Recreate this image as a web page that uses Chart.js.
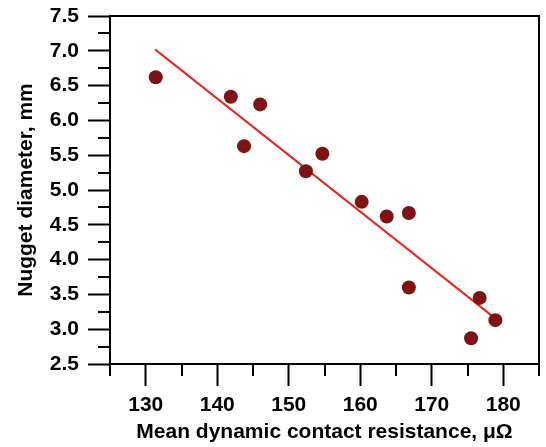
<!DOCTYPE html>
<html>
<head>
<meta charset="utf-8">
<script src="https://cdn.jsdelivr.net/npm/chart.js@4/dist/chart.umd.min.js"></script>
<style>
  html, body { margin: 0; padding: 0; background: #fff; }
  #wrap { width: 546px; height: 447px; }
</style>
</head>
<body>
<div id="wrap"><canvas id="c" width="546" height="447"></canvas></div>
<script>
// Data
const resistance = [131.4, 141.9, 143.75, 146.0, 152.4, 154.7, 160.2, 163.7, 166.8, 166.8, 175.5, 176.7, 178.9];
const diameter   = [6.62, 6.34, 5.63, 6.23, 5.27, 5.52, 4.83, 4.62, 4.67, 3.60, 2.87, 3.45, 3.13];
const fitX = [131.3, 178.7];
const fitY = [7.02, 3.17];
const xTickValues = [130, 140, 150, 160, 170, 180];
const yTickValues = [2.5, 3.0, 3.5, 4.0, 4.5, 5.0, 5.5, 6.0, 6.5, 7.0, 7.5];
const xMinorValues = [125, 135, 145, 155, 165, 175, 185];
const yMinorValues = [2.75, 3.25, 3.75, 4.25, 4.75, 5.25, 5.75, 6.25, 6.75, 7.25];
const xTitle = 'Mean dynamic contact resistance, \u03BC\u03A9';
const yTitle = 'Nugget diameter, mm';

const FONT = '"Liberation Sans", Arial, sans-serif';

const framePlugin = {
  id: 'frame',
  afterDraw(chart) {
    const {ctx, chartArea: a, scales: {x, y}} = chart;
    ctx.save();
    ctx.strokeStyle = '#000';
    ctx.lineWidth = 2;
    ctx.beginPath();
    ctx.moveTo(a.left, a.top);
    ctx.lineTo(a.right, a.top);
    ctx.lineTo(a.right, a.bottom);
    ctx.stroke();
    ctx.beginPath();
    xMinorValues.forEach(v => {
      const px = Math.round(x.getPixelForValue(v));
      ctx.moveTo(px, a.bottom);
      ctx.lineTo(px, a.bottom + 12);
    });
    yMinorValues.forEach(v => {
      const py = Math.round(y.getPixelForValue(v));
      ctx.moveTo(a.left - 12, py);
      ctx.lineTo(a.left, py);
    });
    ctx.stroke();
    ctx.restore();
  }
};

new Chart(document.getElementById('c'), {
  type: 'scatter',
  data: {
    datasets: [
      {
        type: 'line',
        data: fitX.map((v, i) => ({x: v, y: fitY[i]})),
        borderColor: '#e8291f',
        borderWidth: 2,
        pointRadius: 0,
        fill: false,
        order: 2
      },
      {
        data: resistance.map((v, i) => ({x: v, y: diameter[i]})),
        backgroundColor: '#7e1214',
        borderColor: '#7e1214',
        pointRadius: 7,
        borderWidth: 0,
        order: 1
      }
    ]
  },
  options: {
    responsive: false,
    animation: false,
    devicePixelRatio: 1,
    layout: { padding: { top: 16, right: 2, left: 0, bottom: 0 } },
    plugins: { legend: { display: false }, tooltip: { enabled: false } },
    scales: {
      x: {
        type: 'linear',
        min: 125, max: 185,
        afterBuildTicks: s => { s.ticks = xTickValues.map(v => ({value: v})); },
        afterFit: s => { s.height = 83; s.paddingLeft = 0; s.paddingRight = 0; },
        ticks: { color: '#000', padding: 7, font: { family: FONT, size: 21, weight: 'bold' } },
        grid: { drawOnChartArea: false, drawTicks: true, tickLength: 22, tickWidth: 2, tickColor: '#000' },
        border: { display: true, color: '#000', width: 2 },
        title: { display: true, text: xTitle, color: '#000', padding: { top: 0, bottom: 2 }, font: { family: FONT, size: 21, weight: 'bold' } }
      },
      y: {
        type: 'linear',
        min: 2.5, max: 7.5,
        afterBuildTicks: s => { s.ticks = yTickValues.map(v => ({value: v})); },
        afterFit: s => { s.width = 110; s.paddingTop = 0; s.paddingBottom = 0; },
        ticks: { color: '#000', padding: 9, callback: v => Number(v).toFixed(1), font: { family: FONT, size: 21, weight: 'bold' } },
        grid: { drawOnChartArea: false, drawTicks: true, tickLength: 22, tickWidth: 2, tickColor: '#000' },
        border: { display: true, color: '#000', width: 2 },
        title: { display: true, text: yTitle, color: '#000', padding: { top: 14, bottom: 0 }, font: { family: FONT, size: 21, weight: 'bold' } }
      }
    }
  },
  plugins: [framePlugin]
});
</script>
</body>
</html>
